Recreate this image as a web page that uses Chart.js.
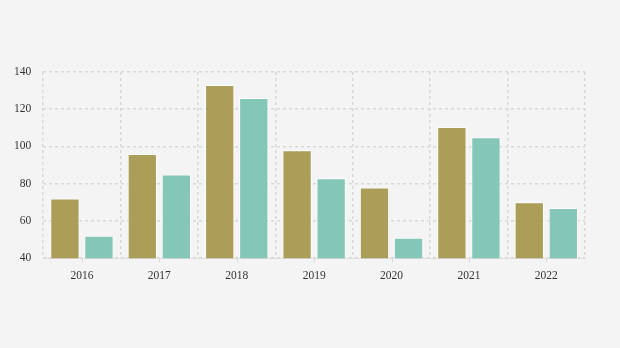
<!DOCTYPE html>
<html>
<head>
<meta charset="utf-8">
<script src="https://cdn.jsdelivr.net/npm/chart.js@4/dist/chart.umd.min.js"></script>
<style>
  html, body { margin: 0; padding: 0; background: #f4f4f4; }
  #wrap { width: 620px; height: 348px; }
</style>
</head>
<body>
<div id="wrap"><canvas id="chart" width="620" height="348"></canvas></div>
<script>
const years = ["2016", "2017", "2018", "2019", "2020", "2021", "2022"];
const seriesA = [72, 96, 133, 98, 78, 110.5, 70];
const seriesB = [52, 85, 126, 83, 51, 105, 67];
const yTicks = [40, 60, 80, 100, 120, 140];

const gridColor = "#d8d8d8";

// short tick marks under the category centres
const centreTicks = {
  id: "centreTicks",
  afterDatasetsDraw(chart) {
    const x = chart.scales.x, ctx = chart.ctx, y0 = chart.chartArea.bottom;
    ctx.save();
    ctx.strokeStyle = gridColor;
    ctx.lineWidth = 1;
    years.forEach((_, i) => {
      const px = Math.round(x.getPixelForValue(i)) + 0.5;
      ctx.beginPath();
      ctx.moveTo(px, y0);
      ctx.lineTo(px, y0 + 4);
      ctx.stroke();
    });
    ctx.restore();
  }
};

new Chart(document.getElementById("chart"), {
  type: "bar",
  plugins: [centreTicks],
  data: {
    labels: years,
    datasets: [
      {
        data: seriesA,
        backgroundColor: "rgba(166,153,80,0.95)",
        borderColor: "rgba(255,255,255,0.8)",
        borderWidth: 1,
        barPercentage: 0.86,
        categoryPercentage: 0.88
      },
      {
        data: seriesB,
        backgroundColor: "rgba(125,196,180,0.95)",
        borderColor: "rgba(255,255,255,0.8)",
        borderWidth: 1,
        barPercentage: 0.86,
        categoryPercentage: 0.88
      }
    ]
  },
  options: {
    responsive: false,
    animation: false,
    layout: { padding: { top: 72, left: 2, right: 35, bottom: 54 } },
    plugins: {
      legend: { display: false },
      tooltip: { enabled: false }
    },
    scales: {
      x: {
        grid: {
          offset: true,
          color: gridColor,
          lineWidth: 1.5,
          drawTicks: false
        },
        border: { color: "#dddddd", dash: [3, 3] },
        ticks: {
          color: "#333",
          padding: 11,
          font: { family: "Liberation Serif", size: 11.5 }
        }
      },
      y: {
        min: 40,
        max: 140,
        afterBuildTicks(scale) {
          scale.ticks = yTicks.map(v => ({ value: v }));
        },
        grid: { color: gridColor, lineWidth: 1.5, drawTicks: false },
        border: { display: false, dash: [3, 3] },
        ticks: {
          color: "#333",
          padding: 12,
          font: { family: "Liberation Serif", size: 11.5 }
        }
      }
    }
  }
});
</script>
</body>
</html>
